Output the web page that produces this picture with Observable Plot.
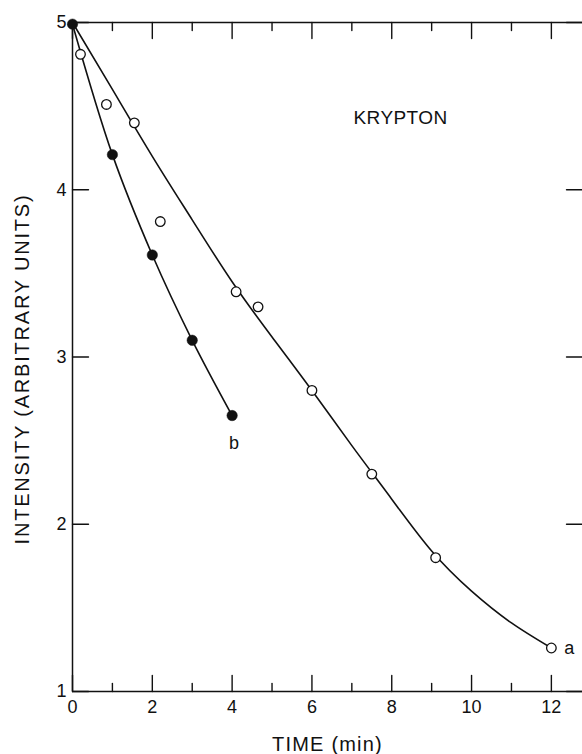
<!DOCTYPE html>
<html>
<head>
<meta charset="utf-8">
<script src="https://cdn.jsdelivr.net/npm/d3@7"></script>
<script src="https://cdn.jsdelivr.net/npm/@observablehq/plot@0.6"></script>
<style>
  html, body { margin: 0; padding: 0; background: #fff; }
  #chart svg { display: block; }
</style>
</head>
<body>
<div id="chart"></div>
<script>
// Krypton intensity decay, open circles (run a) and filled circles (run b)
const timeA = [0.2, 0.85, 1.55, 2.2, 4.1, 4.65, 6.0, 7.5, 9.1, 12.0];
const intensityA = [4.81, 4.51, 4.40, 3.81, 3.39, 3.30, 2.80, 2.30, 1.80, 1.26];

const timeB = [0, 1, 2, 3, 4];
const intensityB = [4.99, 4.21, 3.61, 3.10, 2.65];

// smooth curve drawn through run a
const fitTimeA = [0, 1, 2, 3, 4, 5, 6, 7, 8, 9, 10, 11, 12];
const fitIntensityA = [5.0, 4.6, 4.2, 3.82, 3.45, 3.12, 2.8, 2.47, 2.15, 1.84, 1.6, 1.41, 1.26];

// axis ticks
const xMajor = [0, 2, 4, 6, 8, 10, 12];
const xMinor = [1, 3, 5, 7, 9, 11];
const yTicks = [1, 2, 3, 4, 5];
const xMax = 12.78;

// annotation
const title = "KRYPTON";
const titleTime = 8.22;
const titleIntensity = 4.43;
const xLabel = "TIME (min)";
const yLabel = "INTENSITY (ARBITRARY UNITS)";

const runA = timeA.map((t, i) => ({t, v: intensityA[i]}));
const runB = timeB.map((t, i) => ({t, v: intensityB[i]}));
const fitA = fitTimeA.map((t, i) => ({t, v: fitIntensityA[i]}));

const ink = "#111";
const font = "'Liberation Sans', Arial, Helvetica, sans-serif";

// plain line segment used for the inward-pointing frame ticks
const tickLine = {
  draw(context, l) {
    context.moveTo(0, 0);
    context.lineTo(0, -l);
  }
};
const ticks = (data, opts) => Plot.vector(data, {
  anchor: "start", shape: tickLine, stroke: ink, strokeWidth: 1.4, ...opts
});

const chart = Plot.plot({
  width: 582,
  height: 754,
  marginTop: 22,
  marginBottom: 63,
  marginLeft: 72,
  marginRight: 0,
  style: {fontFamily: font, color: ink, background: "#fff"},
  x: {domain: [0, xMax], axis: null},
  y: {domain: [1, 5], axis: null},
  marks: [
    // frame: bottom, top, left
    Plot.ruleY([1, 5], {stroke: ink, strokeWidth: 1.5}),
    Plot.ruleX([0], {stroke: ink, strokeWidth: 1.5}),

    // bottom ticks (pointing up)
    ticks(xMajor, {x: d => d, y: 1, length: 16, rotate: 0}),
    ticks(xMinor, {x: d => d, y: 1, length: 8, rotate: 0}),
    // top ticks (pointing down)
    ticks(xMajor, {x: d => d, y: 5, length: 16, rotate: 180}),
    ticks(xMinor, {x: d => d, y: 5, length: 8, rotate: 180}),
    // left ticks (pointing right)
    ticks(yTicks, {x: 0, y: d => d, length: 16, rotate: 90}),
    // right ticks (pointing left)
    ticks(yTicks, {x: xMax, y: d => d, length: 16, rotate: -90}),

    // tick labels
    Plot.text(xMajor, {x: d => d, y: 1, text: d => String(d), dy: 16, fontSize: 18, fill: ink}),
    Plot.text(yTicks, {x: 0, y: d => d, text: d => String(d), textAnchor: "end", dx: -6, fontSize: 18, fill: ink}),

    // axis titles
    Plot.text([xLabel], {frameAnchor: "bottom", textAnchor: "middle", lineAnchor: "middle",
      dy: 53, fontSize: 20, fill: ink}),
    Plot.text([yLabel], {frameAnchor: "left", textAnchor: "middle", lineAnchor: "middle",
      rotate: -90, dx: -50, dy: 12, fontSize: 20, fill: ink}),

    // curves
    Plot.line(fitA, {x: "t", y: "v", curve: "natural", stroke: ink, strokeWidth: 1.6}),
    Plot.line(runB, {x: "t", y: "v", curve: "catmull-rom", stroke: ink, strokeWidth: 1.6}),

    // data points
    Plot.dot(runA, {x: "t", y: "v", r: 4.8, fill: "#fff", stroke: ink, strokeWidth: 1.3}),
    Plot.dot(runB, {x: "t", y: "v", r: 5.2, fill: ink, stroke: ink, strokeWidth: 0.5}),

    // curve labels
    Plot.text(runA.slice(-1), {x: "t", y: "v", text: () => "a", dx: 18, dy: 0, fontSize: 18, fill: ink}),
    Plot.text(runB.slice(-1), {x: "t", y: "v", text: () => "b", dx: 2, dy: 28, fontSize: 18, fill: ink}),

    // title
    Plot.text([title], {x: titleTime, y: titleIntensity, text: d => d, textAnchor: "middle", fontSize: 19, fill: ink,
      stroke: "none"})
  ]
});

// wider tracking on the axis titles
const spacing = new Map([[xLabel, "1.2px"], [yLabel, "1.8px"], [title, "0.4px"]]);
d3.select(chart).selectAll("text").each(function() {
  const s = spacing.get(this.textContent);
  if (s) this.setAttribute("letter-spacing", s);
});

document.getElementById("chart").appendChild(chart);
</script>
</body>
</html>
